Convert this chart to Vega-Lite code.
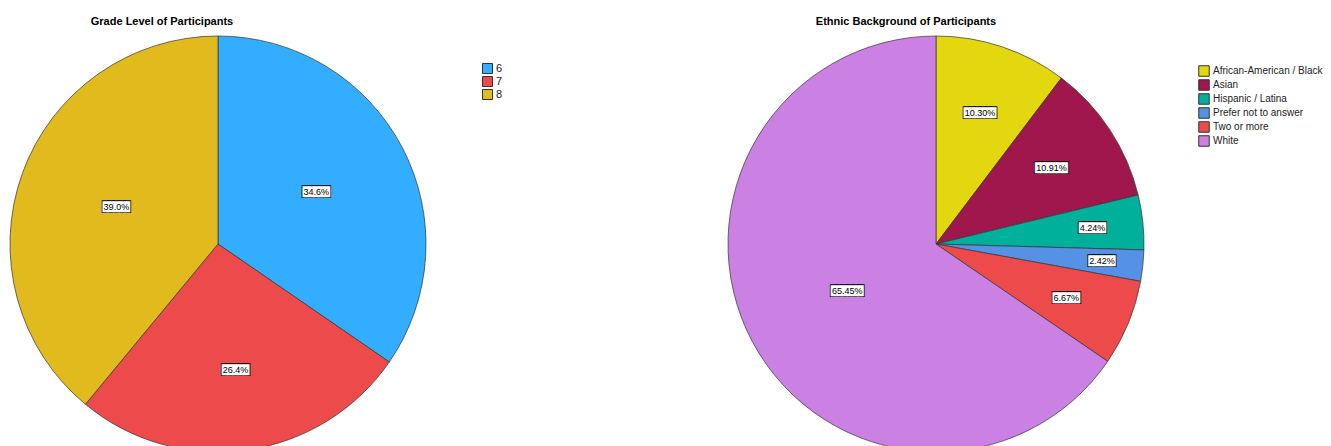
{
  "$schema": "https://vega.github.io/schema/vega-lite/v6.json",
  "background": "white",
  "padding": {"left": 0, "top": 15, "right": 0, "bottom": 0},
  "spacing": 292,
  "bounds": "flush",
  "config": {"view": {"stroke": null}, "font": "Liberation Sans"},
  "resolve": {
    "scale": {"color": "independent", "theta": "independent", "radius": "independent"},
    "legend": {"color": "independent"}
  },
  "hconcat": [
    {
      "width": 436,
      "height": 416,
      "title": {"text": "Grade Level of Participants", "font": "Liberation Sans", "fontSize": 11, "fontWeight": "bold", "color": "black", "anchor": "middle", "dx": -56, "baseline": "alphabetic", "offset": -1},
      "data": {"values": [
        {"grade": "6", "share": 0.346},
        {"grade": "7", "share": 0.264},
        {"grade": "8", "share": 0.390}
      ]},
      "encoding": {
        "theta": {"field": "share", "type": "quantitative", "stack": true},
        "order": {"field": "grade", "type": "ordinal", "sort": "ascending"}
      },
      "layer": [
        {
          "mark": {"type": "arc", "outerRadius": 208, "stroke": "#333333", "strokeWidth": 0.7},
          "encoding": {
            "color": {
              "field": "grade", "type": "nominal",
              "scale": {"domain": ["6", "7", "8"], "range": ["#33ADFF", "#ED4B4B", "#E1BA1E"]},
              "legend": {"orient": "none", "legendX": 482, "legendY": 27, "title": null, "symbolType": "square", "symbolSize": 100, "symbolStrokeColor": "#333333", "symbolStrokeWidth": 1, "symbolOpacity": 1, "labelFont": "Liberation Sans", "labelFontSize": 11, "labelColor": "#222222", "rowPadding": -3, "labelOffset": 3}
            }
          }
        },
        {
          "mark": {"type": "text", "font": "DejaVu Sans Mono", "fontSize": 9, "fill": "black", "stroke": "black", "strokeWidth": 2, "baseline": "middle", "align": "center"},
          "encoding": {
            "radius": {"field": "share", "type": "quantitative", "scale": {"type": "linear", "domain": [0.264, 0.346, 0.39], "range": [127, 111, 108], "zero": false, "nice": false}},
            "text": {"value": "█████"}
          }
        },
        {
          "mark": {"type": "text", "font": "DejaVu Sans Mono", "fontSize": 9, "fill": "white", "stroke": "white", "strokeWidth": 0.4, "baseline": "middle", "align": "center"},
          "encoding": {
            "radius": {"field": "share", "type": "quantitative", "scale": {"type": "linear", "domain": [0.264, 0.346, 0.39], "range": [127, 111, 108], "zero": false, "nice": false}},
            "text": {"value": "█████"}
          }
        },
        {
          "mark": {"type": "text", "font": "Liberation Sans", "fontSize": 9, "fill": "black", "baseline": "middle", "align": "center"},
          "encoding": {
            "radius": {"field": "share", "type": "quantitative", "scale": {"type": "linear", "domain": [0.264, 0.346, 0.39], "range": [127, 111, 108], "zero": false, "nice": false}},
            "text": {"field": "share", "type": "quantitative", "format": ".1%"}
          }
        }
      ]
    },
    {
      "width": 416,
      "height": 416,
      "title": {"text": "Ethnic Background of Participants", "font": "Liberation Sans", "fontSize": 11, "fontWeight": "bold", "color": "black", "anchor": "middle", "dx": -30, "baseline": "alphabetic", "offset": -1},
      "data": {"values": [
        {"ethnicity": "African-American / Black", "share": 0.1030},
        {"ethnicity": "Asian", "share": 0.1091},
        {"ethnicity": "Hispanic / Latina", "share": 0.0424},
        {"ethnicity": "Prefer not to answer", "share": 0.0242},
        {"ethnicity": "Two or more", "share": 0.0667},
        {"ethnicity": "White", "share": 0.6545}
      ]},
      "encoding": {
        "theta": {"field": "share", "type": "quantitative", "stack": true},
        "order": {"field": "ethnicity", "type": "ordinal", "sort": "ascending"}
      },
      "layer": [
        {
          "mark": {"type": "arc", "outerRadius": 208, "stroke": "#333333", "strokeWidth": 0.7},
          "encoding": {
            "color": {
              "field": "ethnicity", "type": "nominal",
              "scale": {"domain": ["African-American / Black", "Asian", "Hispanic / Latina", "Prefer not to answer", "Two or more", "White"], "range": ["#E3D70F", "#A0174D", "#00B09B", "#5591E5", "#ED4B4B", "#CB80E3"]},
              "legend": {"orient": "none", "legendX": 470, "legendY": 29, "title": null, "symbolType": "square", "symbolSize": 110, "symbolStrokeColor": "#333333", "symbolStrokeWidth": 1, "symbolOpacity": 1, "labelFont": "Liberation Sans", "labelFontSize": 10, "labelColor": "#222222", "rowPadding": -2, "labelOffset": 3, "labelLimit": 200}
            }
          }
        },
        {
          "mark": {"type": "text", "font": "DejaVu Sans Mono", "fontSize": 9, "fill": "black", "stroke": "black", "strokeWidth": 2, "baseline": "middle", "align": "center"},
          "encoding": {
            "radius": {"field": "share", "type": "quantitative", "scale": {"type": "linear", "domain": [0.024, 0.043, 0.066, 0.66], "range": [167, 157, 141, 100], "zero": false, "nice": false}},
            "text": {"condition": {"test": "datum.share >= 0.1", "value": "██████"}, "value": "█████"}
          }
        },
        {
          "mark": {"type": "text", "font": "DejaVu Sans Mono", "fontSize": 9, "fill": "white", "stroke": "white", "strokeWidth": 0.4, "baseline": "middle", "align": "center"},
          "encoding": {
            "radius": {"field": "share", "type": "quantitative", "scale": {"type": "linear", "domain": [0.024, 0.043, 0.066, 0.66], "range": [167, 157, 141, 100], "zero": false, "nice": false}},
            "text": {"condition": {"test": "datum.share >= 0.1", "value": "██████"}, "value": "█████"}
          }
        },
        {
          "mark": {"type": "text", "font": "Liberation Sans", "fontSize": 9, "fill": "black", "baseline": "middle", "align": "center"},
          "encoding": {
            "radius": {"field": "share", "type": "quantitative", "scale": {"type": "linear", "domain": [0.024, 0.043, 0.066, 0.66], "range": [167, 157, 141, 100], "zero": false, "nice": false}},
            "text": {"field": "share", "type": "quantitative", "format": ".2%"}
          }
        }
      ]
    }
  ]
}
